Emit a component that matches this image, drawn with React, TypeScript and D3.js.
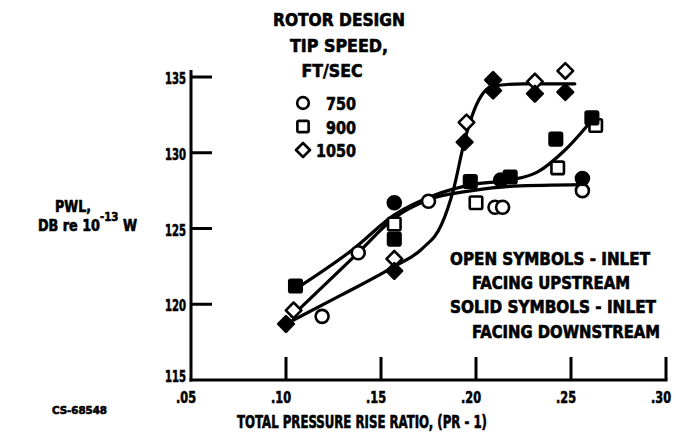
import React from "react";
import * as d3 from "d3";

const W = 676;
const H = 433;

const xTicks = [0.05, 0.1, 0.15, 0.2, 0.25, 0.3];
const xTickLabels = [".05", ".10", ".15", ".20", ".25", ".30"];
const yTicks = [115, 120, 125, 130, 135];
const yTickLabels = ["115", "120", "125", "130", "135"];

// faired curves
const curve750 = [[0.103, 119.2], [0.138, 123.4], [0.157, 125.7], [0.175, 126.9], [0.198, 127.5], [0.22, 127.8], [0.256, 127.9]];
const curve900 = [[0.105, 121.0], [0.135, 123.6], [0.157, 125.9], [0.178, 127.2], [0.198, 127.9], [0.218, 128.2], [0.232, 128.7], [0.247, 130.2], [0.262, 132.3]];
const curve1050 = [[0.1, 118.7], [0.129, 120.6], [0.157, 122.5], [0.172, 123.7], [0.182, 125.3], [0.188, 127.5], [0.194, 130.8], [0.199, 132.8], [0.209, 134.4], [0.225, 134.55], [0.252, 134.55]];

// measured points
const open750 = [[0.119, 119.2], [0.138, 123.4], [0.175, 126.8], [0.21, 126.4], [0.214, 126.4], [0.256, 127.5]];
const solid750 = [[0.157, 126.7], [0.213, 128.2], [0.256, 128.3]];
const open900 = [[0.157, 125.3], [0.2, 126.7], [0.243, 129.0], [0.263, 131.8]];
const solid900 = [[0.105, 121.2], [0.157, 124.3], [0.197, 128.1], [0.218, 128.4], [0.242, 130.9], [0.261, 132.3]];
const open1050 = [[0.104, 119.6], [0.157, 123.0], [0.195, 132.0], [0.231, 134.7], [0.247, 135.4]];
const solid1050 = [[0.1, 118.7], [0.157, 122.2], [0.194, 130.7], [0.209, 134.8], [0.209, 134.1], [0.231, 133.9], [0.247, 134.0]];

const legendLabels = ["750", "900", "1050"];
const legendShapes = ["circle", "square", "diamond"];

const FONT = "'DejaVu Sans Condensed', 'Liberation Sans Narrow', sans-serif";

const x = d3.scaleLinear().domain([0.05, 0.3]).range([191, 666]);
const y = d3.scaleLinear().domain([115, 135]).range([380, 77]);

const line = d3
  .line<number[]>()
  .x((d) => x(d[0]))
  .y((d) => y(d[1]))
  .curve(d3.curveMonotoneX);

function Marker({ shape, cx, cy, filled, size = 1 }: { shape: string; cx: number; cy: number; filled: boolean; size?: number }) {
  const fill = filled ? "#000" : "#fff";
  const sw = 2.6;
  if (shape === "circle") return <circle cx={cx} cy={cy} r={6.5 * size} fill={fill} stroke="#000" strokeWidth={sw} />;
  if (shape === "square") {
    const s = 12.5 * size;
    return <rect x={cx - s / 2} y={cy - s / 2} width={s} height={s} rx={1.5} fill={fill} stroke="#000" strokeWidth={sw} />;
  }
  const r = 7.8 * size;
  return <polygon points={`${cx},${cy - r} ${cx + r},${cy} ${cx},${cy + r} ${cx - r},${cy}`} fill={fill} stroke="#000" strokeWidth={sw} strokeLinejoin="round" />;
}

function T({ x0, yb, w, children, size = 17, anchor = "start" }: any) {
  return (
    <text x={x0} y={yb} fontFamily={FONT} fontWeight="bold" fontSize={size} textLength={w} lengthAdjust="spacingAndGlyphs" textAnchor={anchor} fill="#000" stroke="#000" strokeWidth={0.6}>
      {children}
    </text>
  );
}

export default function App() {
  const series = [
    { shape: "circle", open: open750, solid: solid750 },
    { shape: "square", open: open900, solid: solid900 },
    { shape: "diamond", open: open1050, solid: solid1050 },
  ];
  return (
    <svg width={W} height={H} style={{ position: "absolute", left: 0, top: 0, background: "#fff" }}>
      <rect width={W} height={H} fill="#fff" />
      {/* axes */}
      <line x1={x(0.05)} y1={70} x2={x(0.05)} y2={y(115) + 1.5} stroke="#000" strokeWidth={3} />
      <line x1={x(0.05) - 1.5} y1={y(115)} x2={x(0.3) + 1.5} y2={y(115)} stroke="#000" strokeWidth={3} />
      {yTicks.slice(1).map((t) => (
        <line key={"yt" + t} x1={x(0.05)} y1={y(t)} x2={x(0.05) + 21} y2={y(t)} stroke="#000" strokeWidth={3} />
      ))}
      {xTicks.slice(1).map((t) => (
        <line key={"xt" + t} x1={x(t)} y1={y(115)} x2={x(t)} y2={y(115) - 23} stroke="#000" strokeWidth={3} />
      ))}
      {yTicks.map((t, i) => (
        <T key={"yl" + t} x0={186} yb={y(t) + (t === 115 ? 2 : 7)} w={21} anchor="end" size={16}>
          {yTickLabels[i]}
        </T>
      ))}
      {xTicks.map((t, i) => (
        <T key={"xl" + t} x0={x(t) - 15} yb={403} w={20} size={16}>
          {xTickLabels[i]}
        </T>
      ))}
      <T x0={237} yb={428} w={250} size={17}>TOTAL PRESSURE RISE RATIO, (PR - 1)</T>
      <T x0={52} yb={414} w={55} size={11}>CS-68548</T>

      {/* y title */}
      <T x0={55} yb={212} w={36} size={16}>PWL,</T>
      <T x0={38} yb={231} w={99} size={15}>
        DB re 10
        <tspan dy={-10} fontSize={12}>-13</tspan>
        <tspan dy={10}> W</tspan>
      </T>

      {/* legend */}
      <T x0={339} yb={26} w={132} anchor="middle" size={18}>ROTOR DESIGN</T>
      <T x0={339} yb={52} w={98} anchor="middle" size={18}>TIP SPEED,</T>
      <T x0={332} yb={77} w={61} anchor="middle" size={18}>FT/SEC</T>
      {legendLabels.map((l, i) => (
        <g key={l}>
          <Marker shape={legendShapes[i]} cx={303} cy={103 + i * 23.5} filled={false} size={0.9} />
          <T x0={356} yb={110 + i * 23.5} w={l.length * 10} anchor="end" size={18}>
            {l}
          </T>
        </g>
      ))}

      {/* annotation */}
      <T x0={450} yb={265} w={200} size={17}>OPEN SYMBOLS - INLET</T>
      <T x0={472} yb={289} w={158} size={17}>FACING UPSTREAM</T>
      <T x0={450} yb={313} w={206} size={17}>SOLID SYMBOLS - INLET</T>
      <T x0={472} yb={338} w={188} size={17}>FACING DOWNSTREAM</T>

      {/* curves */}
      {[curve750, curve900, curve1050].map((c, i) => (
        <path key={"c" + i} d={line(c) || ""} fill="none" stroke="#000" strokeWidth={3.2} strokeLinecap="round" />
      ))}

      {/* markers */}
      {series.map((s) => (
        <g key={s.shape}>
          {s.open.map((p, j) => (
            <Marker key={"o" + j} shape={s.shape} cx={x(p[0])} cy={y(p[1])} filled={false} />
          ))}
          {s.solid.map((p, j) => (
            <Marker key={"s" + j} shape={s.shape} cx={x(p[0])} cy={y(p[1])} filled={true} />
          ))}
        </g>
      ))}
    </svg>
  );
}
